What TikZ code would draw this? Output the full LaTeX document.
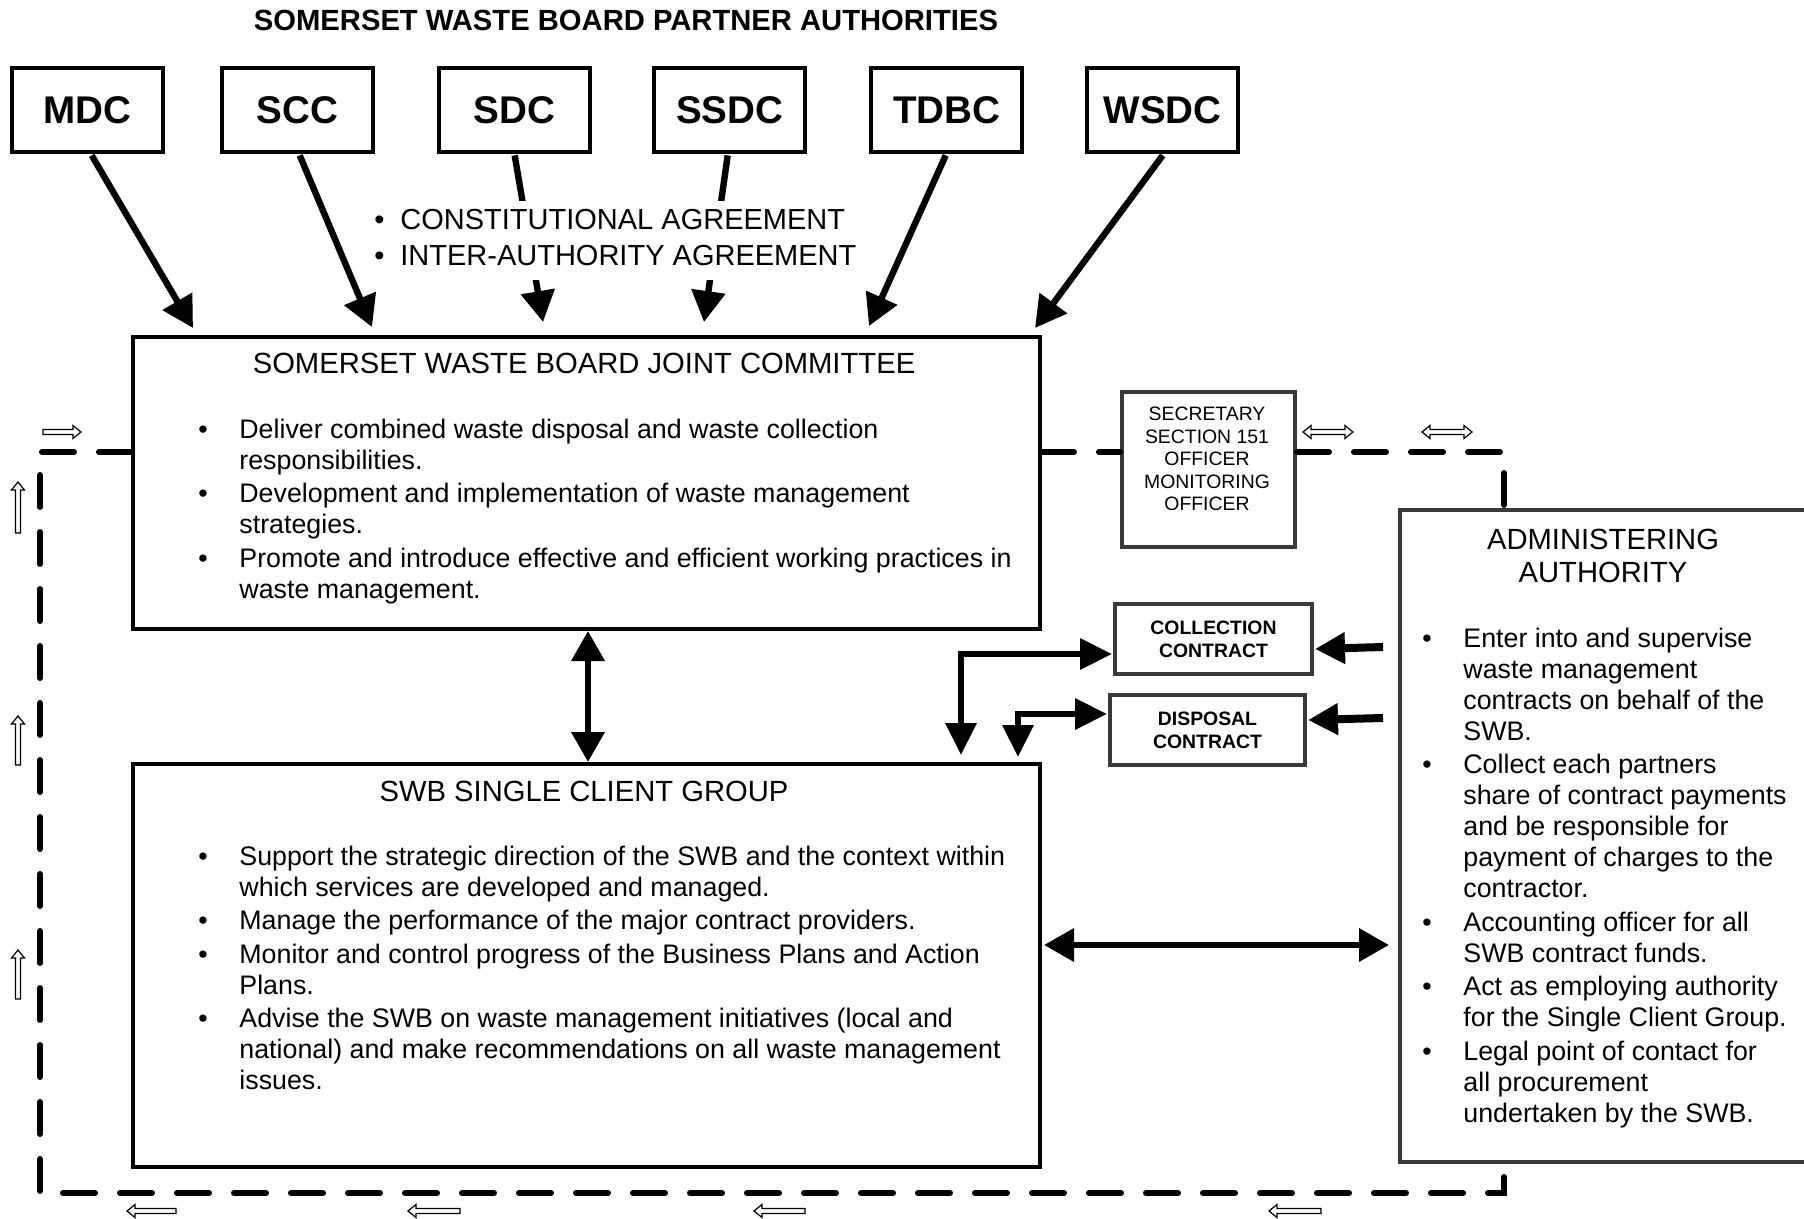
\documentclass[tikz,border=0pt]{standalone}
\usepackage{fontspec}
\setmainfont{Liberation Sans}
\usetikzlibrary{arrows.meta,calc}
\newcommand\bul{\makebox[20.5pt][l]{\textbullet}}
\newcommand\bulb{\makebox[13pt][l]{\textbullet}}
\definecolor{edgegrey}{HTML}{3A3A3A}
\begin{document}
\begin{tikzpicture}[x=0.5pt,y=-0.5pt,
  topbox/.style={draw, line width=2.2pt, minimum width=75.5pt, minimum height=42pt, inner sep=0pt, anchor=north west, font=\bfseries\fontsize{19.3}{22}\selectfont},
  mainbox/.style={draw, line width=2pt, inner sep=0pt, anchor=north west},
  greybox/.style={draw=edgegrey, line width=2pt, inner sep=0pt, anchor=north west},
  ctbox/.style={draw=edgegrey, line width=2pt, inner sep=0pt, anchor=north west, align=center, font=\bfseries\fontsize{9.7}{11.5}\selectfont},
  bodytxt/.style={inner sep=0pt, anchor=base west, font=\fontsize{13.4}{15.5}\selectfont},
  headtxt/.style={inner sep=0pt, anchor=base, font=\fontsize{14.6}{16.6}\selectfont},
  feedarrow/.style={line width=3.2pt, -{Triangle[length=15.5pt,width=16.5pt]}},
  linkarrow/.style={line width=3.3pt, {Triangle[length=16pt,width=15pt]}-{Triangle[length=16pt,width=15pt]}},
  leadarrow/.style={line width=4pt, -{Triangle[length=15pt,width=15pt]}},
  biglink/.style={line width=3.3pt, {Triangle[length=15pt,width=16pt]}-{Triangle[length=15pt,width=16pt]}},
  loopline/.style={line width=3pt, line cap=round, dash pattern=on 16pt off 12.5pt},
  pics/harr/.style={code={\draw[line width=0.6pt, fill=white] (0,-2.5) -- (#1-8,-2.5) -- (#1-8,-6.5) -- (#1,0) -- (#1-8,6.5) -- (#1-8,2.5) -- (0,2.5) -- cycle;}},
  pics/dharr/.style={code={\draw[line width=0.6pt, fill=white] (0,0) -- (8,-6.5) -- (8,-2.5) -- (#1-8,-2.5) -- (#1-8,-6.5) -- (#1,0) -- (#1-8,6.5) -- (#1-8,2.5) -- (8,2.5) -- (8,6.5) -- cycle;}},
]
\useasboundingbox (0,0) rectangle (1804,1219);
\clip (0,0) rectangle (1804,1219);

% title
\node[headtxt, font=\bfseries\fontsize{14.6}{16.6}\selectfont] (title) at (626,31) {SOMERSET WASTE BOARD PARTNER AUTHORITIES};

% partner boxes
\node[topbox] (MDC) at (10,66) {MDC};
\node[topbox] (SCC) at (220,66) {SCC};
\node[topbox] (SDC) at (437,66) {SDC};
\node[topbox] (SSDC) at (652,66) {SSDC};
\node[topbox] (TDBC) at (869,66) {TDBC};
\node[topbox] (WSDC) at (1085,66) {WSDC};

% main boxes
\node[mainbox, minimum width=453.5pt, minimum height=146pt] (jc) at (131,335) {};
\node[mainbox, minimum width=453.5pt, minimum height=201.5pt] (scg) at (131,762) {};
\node[greybox, minimum width=215pt, minimum height=326pt] (adm) at (1398,508) {};
\node[greybox, minimum width=86.5pt, minimum height=77.5pt] (sec) at (1120,390) {};
\node[ctbox, minimum width=98.5pt, minimum height=35pt] (col) at (1113,602) {COLLECTION\\CONTRACT};
\node[ctbox, minimum width=97.5pt, minimum height=35pt] (dis) at (1108,693) {DISPOSAL\\CONTRACT};

% partner arrows
\draw[feedarrow] ($(MDC.south)+(4,1)$) -- ($(jc.north west)+(62,-7)$);
\draw[feedarrow] ($(SCC.south)+(2,1)$) -- ($(jc.north west)+(241,-8)$);
\draw[feedarrow] ($(SDC.south)+(0,1)$) -- ($(jc.north west)+(412,-13)$);
\draw[feedarrow] ($(SSDC.south)+(-2,1)$) -- ($(jc.north west)+(573,-13)$);
\draw[feedarrow] ($(TDBC.south)+(-1,1)$) -- ($(jc.north west)+(738,-9)$);
\draw[feedarrow] ($(WSDC.south)+(0,1)$) -- ($(jc.north west)+(904,-7)$);

% agreement label
\node[inner xsep=2pt, inner ysep=2pt, fill=white, anchor=base west, font=\fontsize{14.5}{17.8}\selectfont] (agr) at (370,230)
  {\begin{tabular}[t]{@{}l@{}l@{}}\bulb & CONSTITUTIONAL AGREEMENT\\ \bulb & INTER-AUTHORITY AGREEMENT\end{tabular}};

% box texts
\node[headtxt] (jct) at (584,374) {SOMERSET WASTE BOARD JOINT COMMITTEE};
\node[bodytxt] (jcl) at (198,438) {\begin{tabular}[t]{@{}l@{}l@{}}
\bul & Deliver combined waste disposal and waste collection\\
 & responsibilities.\\[1.25pt]
\bul & Development and implementation of waste management\\
 & strategies.\\[1.25pt]
\bul & Promote and introduce effective and efficient working practices in\\
 & waste management.
\end{tabular}};

\node[headtxt] (scgt) at (584,801) {SWB SINGLE CLIENT GROUP};
\node[bodytxt] (scgl) at (198,865) {\begin{tabular}[t]{@{}l@{}l@{}}
\bul & Support the strategic direction of the SWB and the context within\\
 & which services are developed and managed.\\[1.25pt]
\bul & Manage the performance of the major contract providers.\\[1.25pt]
\bul & Monitor and control progress of the Business Plans and Action\\
 & Plans.\\[1.25pt]
\bul & Advise the SWB on waste management initiatives (local and\\
 & national) and make recommendations on all waste management\\
 & issues.
\end{tabular}};

\node[headtxt] (admt) at (1603,549) {\begin{tabular}[t]{@{}c@{}}ADMINISTERING\\AUTHORITY\end{tabular}};
\node[bodytxt] (adml) at (1422,647) {\begin{tabular}[t]{@{}l@{}l@{}}
\bul & Enter into and supervise\\
 & waste management\\
 & contracts on behalf of the\\
 & SWB.\\[1.25pt]
\bul & Collect each partners\\
 & share of contract payments\\
 & and be responsible for\\
 & payment of charges to the\\
 & contractor.\\[1.25pt]
\bul & Accounting officer for all\\
 & SWB contract funds.\\[1.25pt]
\bul & Act as employing authority\\
 & for the Single Client Group.\\[1.25pt]
\bul & Legal point of contact for\\
 & all procurement\\
 & undertaken by the SWB.
\end{tabular}};

\node[inner sep=0pt, anchor=base, font=\fontsize{9.7}{11.25}\selectfont] (sect) at (1207,421)
  {\begin{tabular}[t]{@{}c@{}}SECRETARY\\SECTION 151\\OFFICER\\MONITORING\\OFFICER\end{tabular}};

% links
\draw[biglink] ($(jc.south)+(1.5,0)$) -- ($(scg.north)+(1.5,0)$);
\draw[biglink] ($(scg.north east)+(2,183)$) -- ($(adm.north west)+(-9,437)$);
\draw[linkarrow] ($(scg.north west)+(830,-7)$) |- ($(col.west)+(-1,15)$);
\draw[linkarrow] ($(scg.north west)+(887,-5)$) |- ($(dis.west)+(-1,-16)$);
\draw[leadarrow] ($(adm.north west)+(-15,139)$) -- ($(col.east)+(1,10)$);
\draw[leadarrow] ($(adm.north west)+(-15,210)$) -- ($(dis.east)+(1,-10)$);

% dashed loop
\coordinate (c1) at (40,452);
\coordinate (c2) at (40,1193);
\coordinate (c3) at (1504,1193);
\coordinate (c4) at (1504,452);
\draw[loopline] (jc.west |- c1) -- (c1) -- (c2) -- (c3) -- (c3 |- adm.south);
\draw[loopline] (jc.east |- c1) -- (sec.west |- c1);
\draw[loopline] (sec.east |- c4) -- (c4) -- (c4 |- adm.north);

% flow arrows
\pic at (43,432) {harr=38};
\pic[rotate=90] at (18,533) {harr=51};
\pic[rotate=90] at (18,765) {harr=49};
\pic[rotate=90] at (18,999) {harr=49};
\pic[rotate=180] at (176,1211) {harr=49};
\pic[rotate=180] at (460,1211) {harr=52};
\pic[rotate=180] at (805,1211) {harr=51};
\pic[rotate=180] at (1321,1211) {harr=52};
\pic at (1303,432) {dharr=50};
\pic at (1422,432) {dharr=50};
\end{tikzpicture}
\end{document}
